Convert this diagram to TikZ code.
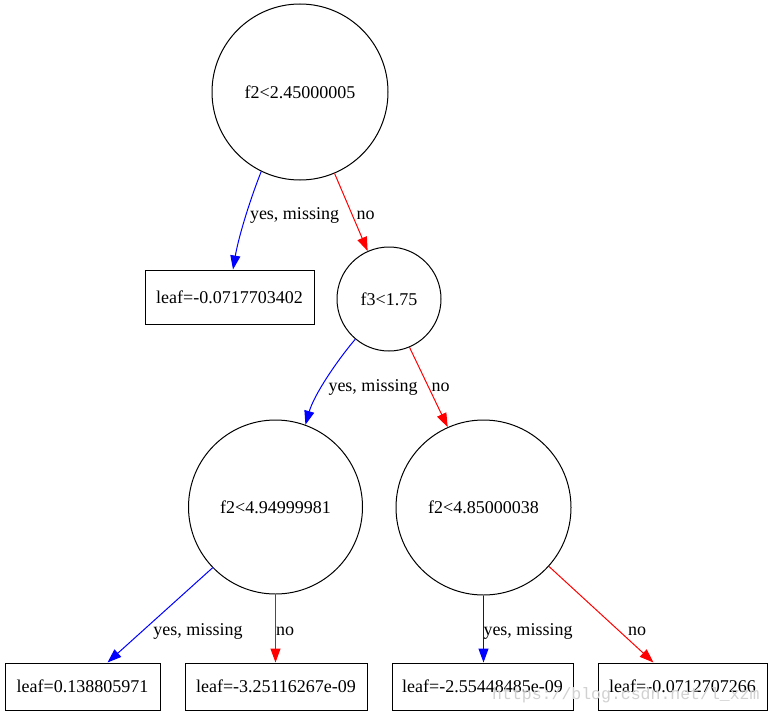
\documentclass[tikz,border=0pt]{standalone}
\usepackage{fontspec}
\setmainfont{Liberation Serif}
\newfontfamily\wmfont{Liberation Mono}
\usetikzlibrary{arrows.meta,calc}
\begin{document}
\begin{tikzpicture}[x=1pt,y=-1pt,
  every node/.style={font=\fontsize{18}{20}\selectfont},
  split/.style={circle,draw,line width=1pt,inner sep=0pt},
  leafbox/.style={rectangle,draw,line width=1pt,inner sep=0pt},
  yesedge/.style={draw=blue,line width=1pt,-{Triangle[length=14pt,width=10pt]}},
  noedge/.style={draw=red,line width=1pt,-{Triangle[length=14pt,width=10pt]}},
  lbl/.style={anchor=base,inner sep=0pt}]
\useasboundingbox (0,0) rectangle (773,717);
\fill[white] (0,0) rectangle (773,717);
% split nodes
\node[split,minimum size=176pt] (root) at (300,92) {f2<2.45000005};
\node[split,minimum size=104pt] (f3) at (389,299) {f3<1.75};
\node[split,minimum size=174pt] (f2a) at (275.5,507) {f2<4.94999981};
\node[split,minimum size=175pt] (f2b) at (483.5,507.5) {f2<4.85000038};
% leaves
\node[leafbox,minimum width=169pt,minimum height=54pt] (l1) at (229.5,297) {leaf=-0.0717703402};
\node[leafbox,minimum width=155pt,minimum height=47pt] (lA) at (82.5,686.5) {leaf=0.138805971};
\node[leafbox,minimum width=182pt,minimum height=47pt] (lB) at (276,686.5) {leaf=-3.25116267e-09};
\node[leafbox,minimum width=181pt,minimum height=47pt] (lC) at (482.5,686.5) {leaf=-2.55448485e-09};
\node[leafbox,minimum width=169pt,minimum height=47pt] (lD) at (682.5,686.5) {leaf=-0.0712707266};
% edges
\draw[yesedge] (root.244) .. controls (248,205) and (238,240) .. ($(l1.north)+(3.5,0)$);
\draw[noedge] (root.293) -- (f3.114);
\draw[yesedge] (f3.230) .. controls (336,362) and (314,395) .. (f2a.70);
\draw[noedge] (f3.293) -- (f2b.114);
\draw[yesedge] (f2a.224) -- ($(lA.north)+(25,0)$);
\draw[noedge] (f2a.south) -- (f2a.south |- lB.north);
\draw[yesedge] (f2b.south) -- (f2b.south |- lC.north);
\draw[noedge] (f2b.318) -- ($(lD.north)+(-29,0)$);
% edge labels
\node[lbl] (y1) at (294.5,219) {yes, missing};
\node[lbl] (n1) at (365.5,219) {no};
\node[lbl] (y2) at (373,391) {yes, missing};
\node[lbl] (n2) at (440.5,391) {no};
\node[lbl] (y3) at (198,635) {yes, missing};
\node[lbl] (n3) at (285,635) {no};
\node[lbl] (y4) at (528,635) {yes, missing};
\node[lbl] (n4) at (637,635) {no};
% watermark
\node[anchor=base west,inner sep=0pt,font=\wmfont\fontsize{16.5}{18}\selectfont,text=black!18] (wm) at (492,699) {https://blog.csdn.net/l\_xzm};
\end{tikzpicture}
\end{document}
